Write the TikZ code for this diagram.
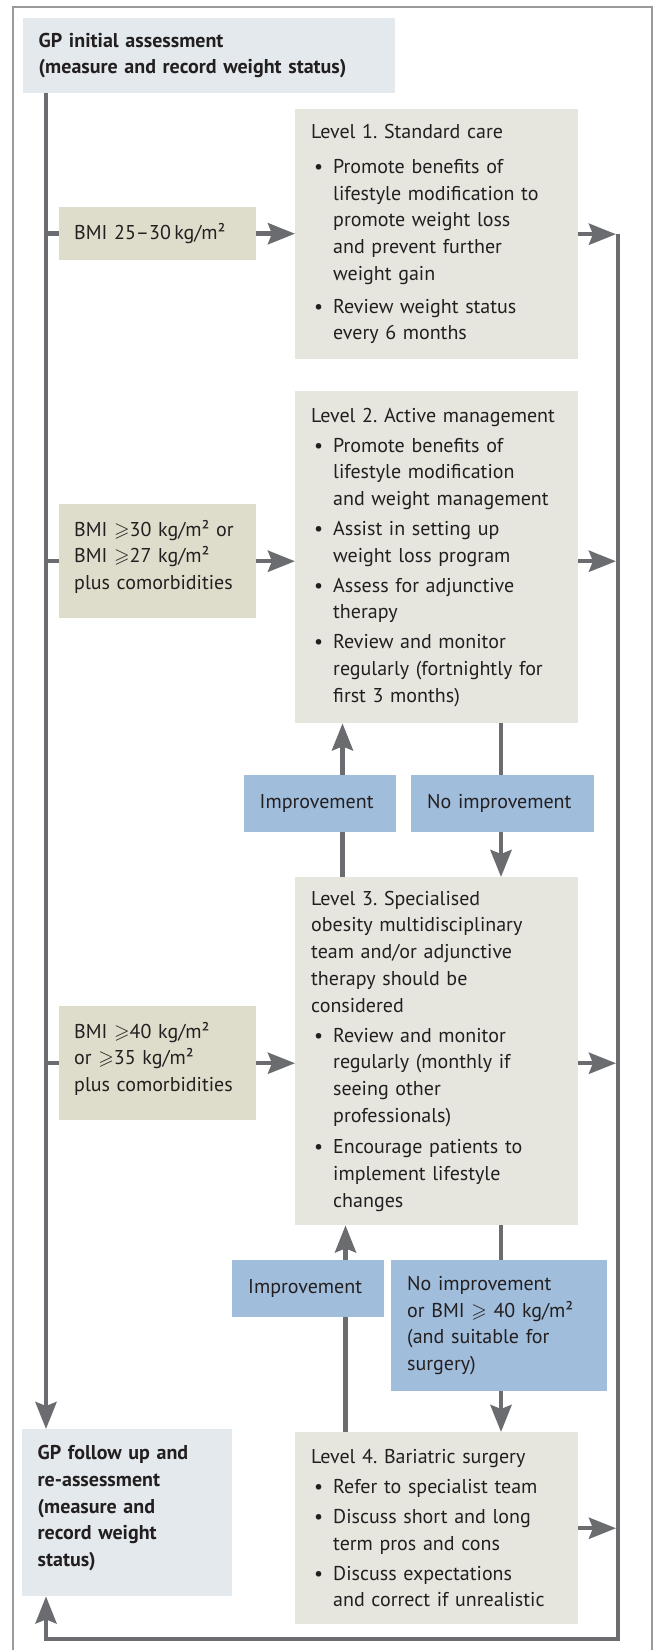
\documentclass[tikz,border=0pt]{standalone}
\usepackage{amssymb}
\usepackage{fontspec}
\setmainfont{PT Sans}
\usetikzlibrary{arrows.meta}

\definecolor{linegray}{HTML}{6B6C70}
\definecolor{framegray}{HTML}{9A9A9A}
\definecolor{lvlfill}{HTML}{E6E6DF}
\definecolor{bmifill}{HTML}{DEDDCB}
\definecolor{gpfill}{HTML}{E3E9EC}
\definecolor{evalfill}{HTML}{A0BDDB}
\definecolor{textblack}{HTML}{231F20}

\setlength{\parindent}{0pt}
\frenchspacing
\newcommand{\bpt}[1][3.3pt]{\par\vspace{#1}\hangindent=22pt\hangafter=1\noindent\makebox[22pt][l]{\hspace{3pt}\textbullet}\ignorespaces}

\tikzset{
	boxbase/.style={anchor=north west, inner ysep=0pt, align=left, text=textblack, font=\fontsize{20}{26.7}\selectfont},
	lvlbox/.style={boxbase, fill=lvlfill, text width=251pt, inner xsep=16pt},
	bmibox/.style={boxbase, fill=bmifill, text width=167pt, inner xsep=15pt},
	gpbox/.style={boxbase, fill=gpfill, inner xsep=15.5pt, font=\fontsize{20}{26.7}\selectfont\bfseries},
	evalbox/.style={boxbase, fill=evalfill, inner xsep=16pt},
	conn/.style={draw=linegray, line width=4.5pt},
	flow/.style={conn, -{Stealth[length=27pt, width=21pt, inset=4pt]}}
}

\begin{document}
\begin{tikzpicture}[x=1pt, y=-1pt]
	\useasboundingbox (0,0) rectangle (654,1650);
	\fill[white] (0,0) rectangle (654,1650);
	\draw[framegray, line width=2pt] (13,1660) -- (13,7) -- (652,7) -- (652,1660);

	\node[gpbox, text width=341pt, minimum height=75pt] (gpinit) at (23,18) {GP initial assessment\\(measure and record weight status)};
	\node[gpbox, text width=179pt, minimum height=167pt] (gpfollow) at (22,1429) {GP follow up and\\re-assessment\\(measure and\\record weight\\status)\par\vspace{9pt}};

	\node[bmibox, minimum height=53pt] (bmia) at (59,207) {BMI 25--30\,kg/m²};
	\node[bmibox, minimum height=114pt] (bmib) at (59,504) {BMI $\geqslant$30 kg/m² or\\BMI $\geqslant$27 kg/m²\\plus comorbidities\par\vspace{9pt}};
	\node[bmibox, minimum height=114pt] (bmic) at (59,1006) {BMI $\geqslant$40 kg/m²\\or $\geqslant$35 kg/m²\\plus comorbidities\par\vspace{9pt}};

	\node[lvlbox, minimum height=250pt] (lvla) at (295,109) {Level 1. Standard care\bpt[8pt]Promote benefits of\newline lifestyle modification to\newline promote weight loss\newline and prevent further\newline weight gain\bpt[6pt]Review weight status\newline every 6 months\par};
	\node[lvlbox, minimum height=332pt] (lvlb) at (295,391) {Level 2. Active management\bpt Promote benefits of\newline lifestyle modification\newline and weight management\bpt Assist in setting up\newline weight loss program\bpt Assess for adjunctive\newline therapy\bpt Review and monitor\newline regularly (fortnightly for\newline first 3 months)\par};
	\node[lvlbox, minimum height=348pt] (lvlc) at (295,877) {Level 3. Specialised\newline obesity multidisciplinary\newline team and/or adjunctive\newline therapy should be\newline considered\bpt Review and monitor\newline regularly (monthly if\newline seeing other\newline professionals)\bpt[5pt]Encourage patients to\newline implement lifestyle\newline changes\par};
	\node[lvlbox, minimum height=192pt] (lvld) at (295,1432) {Level 4. Bariatric surgery\bpt Refer to specialist team\bpt Discuss short and long\newline term pros and cons\bpt Discuss expectations\newline and correct if unrealistic\par};

	\node[evalbox, text width=120pt, minimum height=57pt] (impa) at (243.5,775) {Improvement};
	\node[evalbox, text width=150.6pt, minimum height=57pt] (noimpa) at (411,775) {No improvement};
	\node[evalbox, text width=120pt, minimum height=57pt] (impb) at (232,1260) {Improvement};
	\node[evalbox, text width=183.5pt, minimum height=131pt] (noimpb) at (391,1260) {No improvement\\or BMI $\geqslant$ 40 kg/m²\\(and suitable for\\surgery)};

	\coordinate (spine) at (46,0);
	\coordinate (rspine) at (618,0);
	\coordinate (loop) at (0,1639);
	\coordinate (upa) at (342.5,0);
	\coordinate (upb) at (345.5,0);
	\coordinate (dnx) at (501,0);

	\draw[flow] (spine |- gpinit.south) -- (spine |- gpfollow.north);
	\draw[conn] (spine |- bmia.west) -- (bmia.west);
	\draw[conn] (spine |- bmib.west) -- (bmib.west);
	\draw[conn] (spine |- bmic.west) -- (bmic.west);
	\draw[flow] (bmia.east) -- (bmia.east -| lvla.west);
	\draw[flow] (bmib.east) -- (bmib.east -| lvlb.west);
	\draw[flow] (bmic.east) -- (bmic.east -| lvlc.west);

	\draw[flow, shorten >=2pt] (lvla.east) -- (rspine |- lvla.east);
	\draw[flow, shorten >=2pt] (lvlb.east |- bmib.east) -- (rspine |- bmib.east);
	\draw[flow, shorten >=2pt] (lvlc.east |- bmic.east) -- (rspine |- bmic.east);
	\draw[flow, shorten >=2pt] (lvld.east) -- (rspine |- lvld.east);
	\draw[flow] (rspine |- lvla.east) -- (rspine |- loop) -- (spine |- loop) -- (spine |- gpfollow.south);

	\draw[conn] (upa |- lvlc.north) -- (upa |- impa.south);
	\draw[flow] (upa |- impa.north) -- (upa |- lvlb.south);
	\draw[conn] (dnx |- lvlb.south) -- (dnx |- noimpa.north);
	\draw[flow] (dnx |- noimpa.south) -- (dnx |- lvlc.north);
	\draw[conn] (upb |- lvld.north) -- (upb |- impb.south);
	\draw[flow] (upb |- impb.north) -- (upb |- lvlc.south);
	\draw[conn] (dnx |- lvlc.south) -- (dnx |- noimpb.north);
	\draw[flow] (dnx |- noimpb.south) -- (dnx |- lvld.north);
\end{tikzpicture}
\end{document}
